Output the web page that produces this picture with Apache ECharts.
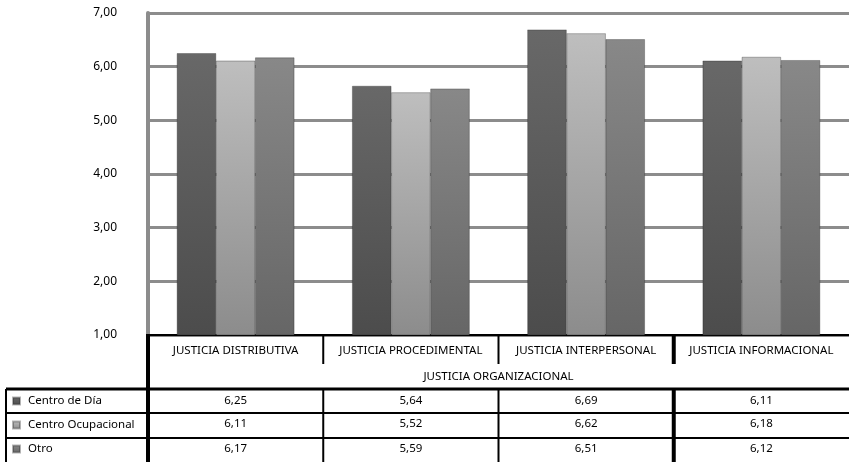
<!DOCTYPE html>
<html><head><meta charset="utf-8">
<script src="https://cdn.jsdelivr.net/npm/echarts@6/dist/echarts.min.js"></script>
<style>html,body{margin:0;padding:0;background:#fff}#c{width:849px;height:462px}</style>
</head><body><div id="c"></div>
<script>
const categories = ['JUSTICIA DISTRIBUTIVA','JUSTICIA PROCEDIMENTAL','JUSTICIA INTERPERSONAL','JUSTICIA INFORMACIONAL'];
const groupLabel = 'JUSTICIA ORGANIZACIONAL';
const seriesNames = ['Centro de Día','Centro Ocupacional','Otro'];
const centroDia = [6.25,5.64,6.69,6.11];
const centroOcupacional = [6.11,5.52,6.62,6.18];
const otro = [6.17,5.59,6.51,6.12];
const yMin = 1, yMax = 7, yStep = 1;

const FONT = 'Noto Sans';
const FS = 11.5;
const fmt = v => v.toFixed(2).replace('.', ',');
const grad = (a, b) => new echarts.graphic.LinearGradient(0, 0, 0, 1, [{offset:0,color:a},{offset:1,color:b}]);
const colors = [grad('#686868','#4c4c4c'), grad('#bebebe','#8c8c8c'), grad('#888888','#666666')];
const allData = [centroDia, centroOcupacional, otro];

const chart = echarts.init(document.getElementById('c'), null, {renderer:'canvas'});

function rowAxis(values, offset) {
  return {
    type:'category', data: values.map(fmt), position:'bottom', offset: offset, gridIndex:0,
    axisLine:{show:false}, axisTick:{show:false}, splitLine:{show:false},
    axisLabel:{color:'#000', fontFamily:FONT, fontSize:FS, margin:10, interval:0}
  };
}

const option = {
  animation:false,
  backgroundColor:'#fff',
  grid:{left:148, right:0, top:13, bottom:127, containLabel:false},
  legend:{
    data: seriesNames, orient:'vertical', left:12, top:394, padding:0, height:70,
    itemWidth:7, itemHeight:7, itemGap:10,
    selectedMode:false, icon:'rect',
    textStyle:{color:'#000', fontFamily:FONT, fontSize:FS, lineHeight:14, padding:[0,0,0,3]}
  },
  xAxis:[
    {
      type:'category', data:categories, position:'bottom',
      name: groupLabel, nameLocation:'middle', nameGap:36,
      nameTextStyle:{color:'#000', fontFamily:FONT, fontSize:FS},
      axisLine:{show:true, lineStyle:{color:'#000', width:2}},
      axisTick:{show:false},
      axisLabel:{color:'#000', fontFamily:FONT, fontSize:FS, margin:10, interval:0}
    },
    rowAxis(centroDia, 50),
    rowAxis(centroOcupacional, 73),
    rowAxis(otro, 98)
  ],
  yAxis:{
    type:'value', min:yMin, max:yMax, interval:yStep,
    axisLine:{show:true, lineStyle:{color:'#8c8c8c', width:4}},
    axisTick:{show:false},
    splitLine:{show:true, lineStyle:{color:'#8c8c8c', width:3}},
    axisLabel:{color:'#000', fontFamily:FONT, fontSize:12, margin:31, formatter:v=>fmt(v)}
  },
  series: seriesNames.map((n, i) => ({
    name:n, type:'bar', data:allData[i], xAxisIndex:0,
    barGap:'0%', barCategoryGap:'33%',
    itemStyle:{color:colors[i], borderColor:'rgba(40,40,40,0.35)', borderWidth:0.5}
  }))
};
chart.setOption(option);

const x0 = chart.convertToPixel({xAxisIndex:0}, 0);
const x1 = chart.convertToPixel({xAxisIndex:0}, 1);
const band = x1 - x0;
const b = [0,1,2,3,4].map(i => x0 - band/2 + i*band);
const yBase = chart.convertToPixel({yAxisIndex:0}, yMin);
const W = 849, H = 462;
const hdrBot = yBase + 29, rowTop = 389, r2 = 413, r3 = 438;
const L = (x1_, y1_, x2_, y2_, w) => ({type:'line', shape:{x1:x1_, y1:y1_, x2:x2_, y2:y2_}, style:{stroke:'#000', lineWidth:w}, z:100});
const g = [
  L(b[0], yBase-1, b[0], H, 4),
  L(b[1], yBase, b[1], hdrBot, 2),
  L(b[2], yBase, b[2], hdrBot, 2),
  L(b[3], yBase, b[3], hdrBot, 4),
  L(b[1], rowTop, b[1], H, 2),
  L(b[2], rowTop, b[2], H, 2),
  L(b[3], rowTop, b[3], H, 4),
  L(6, rowTop, W, rowTop, 3),
  L(6, r2, W, r2, 2),
  L(6, r3, W, r3, 2),
  L(6, rowTop, 6, H, 2)
];
chart.setOption({graphic:g});
</script></body></html>
